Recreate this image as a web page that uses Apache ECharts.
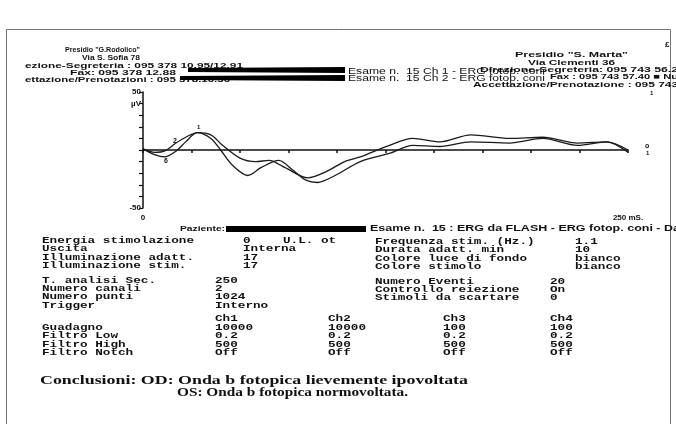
<!DOCTYPE html>
<html><head><meta charset="utf-8">
<script src="https://cdn.jsdelivr.net/npm/echarts@6/dist/echarts.min.js"></script>
<style>html,body{margin:0;padding:0;background:#fff}#c{width:676px;height:424px}</style>
</head><body><div id="c"></div>
<script>
// ---- data (time ms, amplitude µV) ----
const ch1Time = [0, 6, 11, 17, 22, 28, 35, 40, 46, 54, 61, 70, 77, 84, 90, 99, 112, 127, 139, 153, 169, 189, 206, 224, 239, 250];
const ch1Amp  = [1, -4, -6, -1, 7, 15, 10, 0, -13, -22, -15, -9, -17, -26, -28, -22, -10, -3, 4, 3, 7, 6, 10, 4, 7, -2];
const ch2Time = [0, 6, 11, 17, 22, 28, 35, 41, 50, 58, 65, 73, 85, 94, 104, 112, 127, 139, 153, 169, 189, 206, 224, 239, 250];
const ch2Amp  = [1, -2, -1, 6, 11, 15, 13, 4, -7, -10, -9, -15, -24, -19, -10, -6, 4, 10, 7, 13, 10, 11, 6, 7, 0];
const yTickLabels = {50: '50', 40: 'µV', '-50': '-50'};
const xTickLabels = {0: '0', 250: '250 mS.'};

const leftHeader = ['Presidio "G.Rodolico"', 'Via S. Sofia 78', 'ezione-Segreteria : 095 378 10.95/12.91', 'Fax: 095 378 12.88', 'ettazione/Prenotazioni : 095 378.10.30'];
const rightHeader = ['Presidio "S. Marta"', 'Via Clementi 36', 'Direzione-Segreteria: 095 743 56.2', 'Fax : 095 743 57.40 ■ Nu', 'Accettazione/Prenotazione : 095 743'];
const examLines = ['Esame n.  15 Ch 1 - ERG fotop. coni', 'Esame n.  15 Ch 2 - ERG fotop. coni'];
const patientLine = ['Paziente:', 'Esame n.  15 : ERG da FLASH - ERG fotop. coni - Da'];

const block1Labels = ['Energia stimolazione', 'Uscita', 'Illuminazione adatt.', 'Illuminazione stim.'];
const block1Values = ['0', 'Interna', '17', '17'];
const block1Extra = 'U.L. ot';
const block1RLabels = ['Frequenza stim. (Hz.)', 'Durata adatt. min', 'Colore luce di fondo', 'Colore stimolo'];
const block1RValues = ['1.1', '10', 'bianco', 'bianco'];
const block2Labels = ['T. analisi Sec.', 'Numero canali', 'Numero punti', 'Trigger'];
const block2Values = ['250', '2', '1024', 'Interno'];
const block2RLabels = ['Numero Eventi', 'Controllo reiezione', 'Stimoli da scartare'];
const block2RValues = ['20', 'On', '0'];
const chanHeaders = ['Ch1', 'Ch2', 'Ch3', 'Ch4'];
const chanRows = ['Guadagno', 'Filtro Low', 'Filtro High', 'Filtro Notch'];
const chanValues = [
  ['10000', '10000', '100', '100'],
  ['0.2', '0.2', '0.2', '0.2'],
  ['500', '500', '500', '500'],
  ['Off', 'Off', 'Off', 'Off']
];
const conclusions = ['Conclusioni: OD: Onda b fotopica lievemente ipovoltata', 'OS: Onda b fotopica normovoltata.'];

// ---- helpers ----
const mctx = document.createElement('canvas').getContext('2d');
function T(str, x, y, o) {
  o = o || {};
  const size = o.size || 8, fam = o.family || 'Liberation Sans', wt = o.weight || 'bold';
  mctx.font = wt + ' ' + size + 'px "' + fam + '"';
  const mw = mctx.measureText(str).width || 1;
  let sx = 1;
  if (o.w) sx = o.w / mw;
  if (o.cw) sx = (o.cw * str.length) / mw;
  return {type: 'text', x: x, y: y, scaleX: sx, z: 10,
    style: {text: str, fontSize: size, fontFamily: fam, fontWeight: wt, fill: o.fill || '#111',
      align: 'left', verticalAlign: 'middle'}};
}
const MONO = {family: 'Liberation Mono', size: 9, cw: 7.6};
function M(str, x, y) { return T(str, x, y, MONO); }

const g = [];
// frame
g.push({type: 'rect', shape: {x: 6.5, y: 29.5, width: 664, height: 400}, style: {fill: 'none', stroke: '#777', lineWidth: 1}, z: 1});
// left header
g.push(T(leftHeader[0], 65, 50, {size: 7.5, w: 75}));
g.push(T(leftHeader[1], 82, 58, {size: 7.5, w: 58}));
g.push(T(leftHeader[2], 25, 66, {size: 7.5, w: 218}));
g.push(T(leftHeader[3], 70, 73, {size: 7.5, w: 106}));
g.push(T(leftHeader[4], 25, 80, {size: 7.5, w: 205}));
// redaction marks
g.push({type: 'polygon', shape: {points: [[188, 68], [345, 67], [345, 73], [188, 72]]}, style: {fill: '#000'}, z: 11});
g.push({type: 'polygon', shape: {points: [[180, 76], [345, 75], [345, 81], [180, 80]]}, style: {fill: '#000'}, z: 11});
g.push({type: 'rect', shape: {x: 226, y: 226, width: 140, height: 6}, style: {fill: '#000'}, z: 11});
// right header
g.push(T(rightHeader[0], 515, 55, {size: 7.5, w: 113}));
g.push(T(rightHeader[1], 528, 63, {size: 7.5, w: 87}));
g.push(T(rightHeader[2], 480, 70, {size: 7.5, w: 198}));
g.push(T(rightHeader[3], 550, 77, {size: 7.5, w: 128}));
g.push(T(rightHeader[4], 473, 85, {size: 7.5, w: 205}));
g.push(T('£', 665, 45, {size: 8}));
g.push(T('1', 650, 93, {size: 6}));
g.push(T(examLines[0], 348, 72, {size: 8.5, w: 197, weight: 'normal'}));
g.push(T(examLines[1], 348, 79, {size: 8.5, w: 197, weight: 'normal'}));
// trace markers
g.push(T('2', 173, 141, {size: 7}));
g.push(T('6', 164, 161, {size: 7}));
g.push(T('1', 197, 127, {size: 6}));
g.push(T('o', 645, 146, {size: 7}));
g.push(T('1', 646, 153, {size: 6}));
// patient line
g.push(T(patientLine[0], 180, 229, {size: 8, w: 45}));
g.push(T(patientLine[1], 370, 229, {size: 8.5, w: 310}));
// parameter table
const r1 = [241, 249, 258, 266];
block1Labels.forEach((s, i) => g.push(M(s, 42, r1[i])));
block1Values.forEach((s, i) => g.push(M(s, 243, r1[i])));
g.push(M(block1Extra, 283, r1[0]));
block1RLabels.forEach((s, i) => g.push(M(s, 375, r1[i] + 1)));
block1RValues.forEach((s, i) => g.push(M(s, 575, r1[i] + 1)));
const r2 = [281, 289, 297, 306];
block2Labels.forEach((s, i) => g.push(M(s, 42, r2[i])));
block2Values.forEach((s, i) => g.push(M(s, 215, r2[i])));
block2RLabels.forEach((s, i) => g.push(M(s, 375, r2[i] + 1)));
block2RValues.forEach((s, i) => g.push(M(s, 550, r2[i] + 1)));
const chanX = [215, 328, 443, 550];
chanHeaders.forEach((s, i) => g.push(M(s, chanX[i], 319)));
const r3 = [328, 336, 345, 353];
chanRows.forEach((s, i) => g.push(M(s, 42, r3[i])));
chanValues.forEach((row, i) => row.forEach((s, j) => g.push(M(s, chanX[j], r3[i]))));
// conclusions
g.push(T(conclusions[0], 40, 381, {family: 'Liberation Serif', size: 12.5, w: 428}));
g.push(T(conclusions[1], 177, 393, {family: 'Liberation Serif', size: 12.5, w: 231}));

const chart = echarts.init(document.getElementById('c'), null, {renderer: 'canvas'});
chart.setOption({
  animation: false,
  backgroundColor: '#fff',
  grid: {left: 143, top: 92, width: 485, height: 116},
  xAxis: {
    type: 'value', min: 0, max: 250, interval: 25,
    axisLine: {lineStyle: {color: '#111', width: 1.5}},
    axisTick: {show: true, length: 3, lineStyle: {color: '#111', width: 1.5}},
    splitLine: {show: false},
    axisLabel: {show: true, margin: 6, color: '#111', fontSize: 8, fontWeight: 'bold', fontFamily: 'Liberation Sans',
      showMinLabel: true, showMaxLabel: true,
      formatter: v => xTickLabels[v] || ''}
  },
  yAxis: {
    type: 'value', min: -50, max: 50, interval: 10,
    axisLine: {show: true, lineStyle: {color: '#111', width: 1.5}},
    axisTick: {show: true, length: 4, lineStyle: {color: '#111', width: 1.2}},
    splitLine: {show: false},
    axisLabel: {show: true, margin: 2, color: '#111', fontSize: 8, fontWeight: 'bold', fontFamily: 'Liberation Sans',
      showMinLabel: true, showMaxLabel: true,
      formatter: v => yTickLabels[v] || ''}
  },
  series: [
    {type: 'line', name: 'Ch 1', data: ch1Time.map((t, i) => [t, ch1Amp[i]]), showSymbol: false, symbol: 'none',
      smooth: 0.3, lineStyle: {color: '#1a1a1a', width: 1.3}},
    {type: 'line', name: 'Ch 2', data: ch2Time.map((t, i) => [t, ch2Amp[i]]), showSymbol: false, symbol: 'none',
      smooth: 0.3, lineStyle: {color: '#1a1a1a', width: 1.3}}
  ],
  graphic: g
});
</script></body></html>
